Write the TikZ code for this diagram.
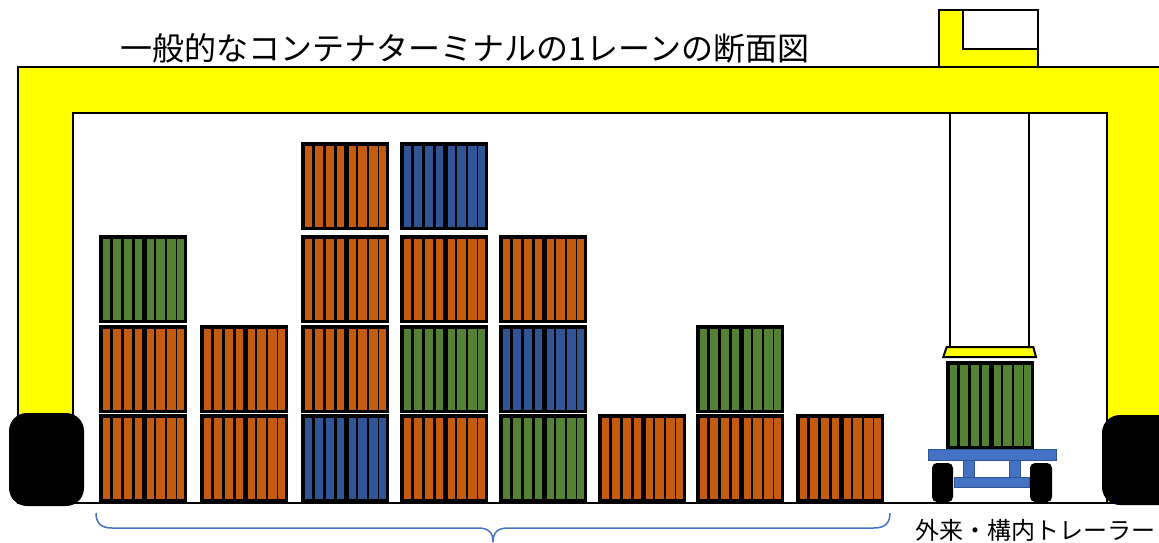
\documentclass[tikz,border=0pt]{standalone}
\usepackage{fontspec}
\newfontfamily\jp{Noto Sans CJK JP}
\definecolor{cOrange}{HTML}{C55A11}
\definecolor{cGreen}{HTML}{548235}
\definecolor{cBlue}{HTML}{2F5597}
\definecolor{trailerBlue}{HTML}{4472C4}
\definecolor{craneYellow}{HTML}{FFFF00}

% one container: left x, top y, colour of the corrugation stripes
\newcommand\drawcontainer[3]{%
  \fill[black] (#1,#2) rectangle ++(88,88);
  \foreach \a/\b in {4/11,13.5/22,24.5/33,35.5/42.5,47.5/54.5,57/65.5,68/76.5,78/85}
    \fill[#3] (#1+\a,#2+4) rectangle (#1+\b,#2+84.5);
}

\tikzset{
  frame/.style={fill=craneYellow, draw=black, line width=2pt},
  tyre/.style={fill=black, rounded corners=18pt},
  rope/.style={draw=black, line width=2.5pt},
  trailer/.style={fill=trailerBlue, draw=cBlue, line width=0.8pt},
  smallwheel/.style={fill=black, rounded corners=5pt},
  bracket/.style={draw=trailerBlue, line width=1.5pt},
  label/.style={inner sep=0pt, font=\jp, text=black},
}

\begin{document}
\begin{tikzpicture}[x=1pt,y=-1pt]
\useasboundingbox (0,0) rectangle (1159,542);
\clip (0,0) rectangle (1159,542);
\fill[white] (0,0) rectangle (1159,542);

% trolley cabin on top of the girder
\fill[craneYellow] (939,10) rectangle (1038,67);
\draw[black, line width=2pt, fill=white] (963,10) rectangle (1038,49);
\draw[black, line width=2.5pt] (939,10) rectangle (1038,67);

% portal frame of the crane
\draw[frame] (18,503) -- (18,67) -- (1175,67) -- (1175,503) -- (1107,503)
  -- (1107,113) -- (73,113) -- (73,503) -- cycle;

% ground
\draw[black, line width=2pt] (18,503) -- (1107,503);

% hoist ropes and spreader
\draw[rope] (950,113) -- (950,348);
\draw[rope] (1029,113) -- (1029,348);
\draw[fill=craneYellow, draw=black, line width=2pt]
  (946.7,347) -- (1033.3,347) -- (1036,357) -- (943.3,357) -- cycle;

% container stacks
\foreach \x/\y/\c in {
  99/414/cOrange, 99/325/cOrange, 99/235/cGreen,
  200/414/cOrange, 200/325/cOrange,
  301/414/cBlue, 301/325/cOrange, 301/235/cOrange, 301/142/cOrange,
  400/414/cOrange, 400/325/cGreen, 400/235/cOrange, 400/142/cBlue,
  499/414/cGreen, 499/325/cBlue, 499/235/cOrange,
  598/414/cOrange,
  696/414/cOrange, 696/325/cGreen,
  796/414/cOrange}
  {\drawcontainer{\x}{\y}{\c}}

% trailer with its container
\drawcontainer{946}{361}{cGreen}
\fill[smallwheel] (932,463) rectangle (953,502);
\fill[smallwheel] (1030,463) rectangle (1052,502);
\draw[trailer] (963,460) rectangle (974,478);
\draw[trailer] (1009,460) rectangle (1020,478);
\draw[trailer] (954,477) rectangle (1029,487);
\draw[trailer] (928,449) rectangle (1056,460);

% crane tyres
\fill[tyre] (9,413) rectangle (84,506);
\fill[tyre] (1102,415) rectangle (1180,505);

% bracket under the stacking area
\draw[bracket] (96,513) .. controls (96,523) and (101,528) .. (112,528)
  -- (478,528) .. controls (488,528) and (493,532) .. (493,542);
\draw[bracket] (890,513) .. controls (890,523) and (885,528) .. (874,528)
  -- (508,528) .. controls (498,528) and (493,532) .. (493,542);

% texts
\node[label, font=\jp\fontsize{32}{36}\selectfont] (title) at (465,48)
  {一般的なコンテナターミナルの1レーンの断面図};
\node[label, font=\jp\fontsize{24}{28}\selectfont] (trailerlabel) at (1035,530)
  {外来・構内トレーラー};
\end{tikzpicture}
\end{document}
